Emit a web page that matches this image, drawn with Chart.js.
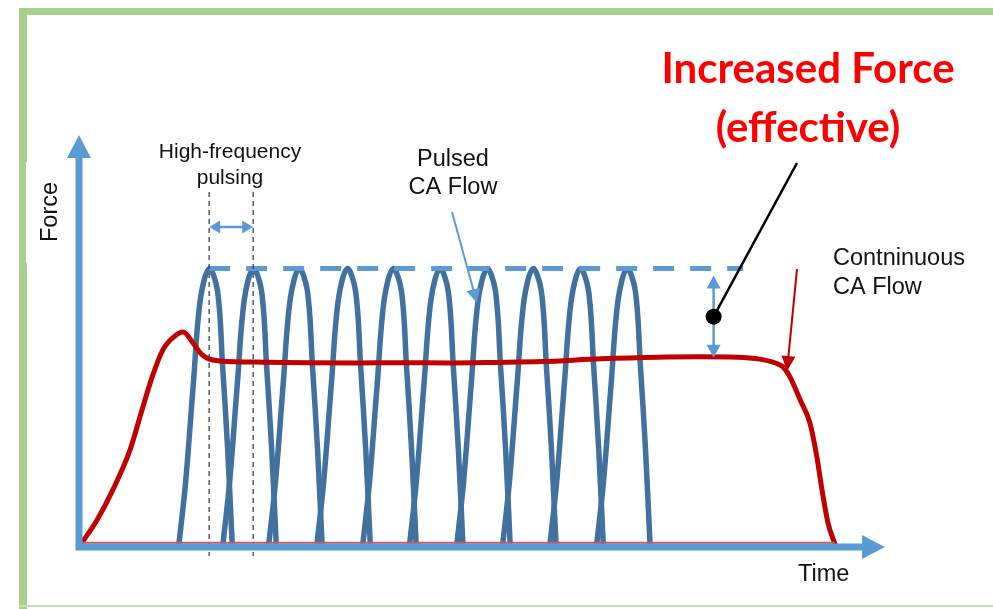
<!DOCTYPE html>
<html>
<head>
<meta charset="utf-8">
<script src="https://cdn.jsdelivr.net/npm/chart.js@4.4.1/dist/chart.umd.min.js"></script>
<style>
  html, body { margin: 0; padding: 0; background: #fff; }
  #wrap { position: relative; width: 993px; height: 609px; }
</style>
</head>
<body>
<div id="wrap"><canvas id="forceChart"></canvas></div>
<script>
// time in arbitrary units, force in % of the pulse peak
const axisMaxTime = 174;
const axisMaxForce = 148;
const pulsePeakForce = 100;

// one row per pulse (pulsed CA flow)
const pulseForce = [0, 23, 59, 89, 100, 92, 65, 35, 0];
const pulseTimes = [
    [21.5, 23.0, 24.7, 26.2, 28.1, 29.9, 31.0, 32.1, 33.1],
    [31.0, 32.5, 34.2, 35.7, 37.6, 39.4, 40.5, 41.6, 42.6],
    [40.9, 42.4, 44.1, 45.6, 47.5, 49.3, 50.4, 51.5, 52.5],
    [51.3, 52.8, 54.5, 56.0, 57.9, 59.7, 60.8, 61.9, 62.9],
    [61.2, 62.7, 64.4, 65.9, 67.8, 69.6, 70.7, 71.8, 72.8],
    [71.3, 72.8, 74.5, 76.0, 77.9, 79.7, 80.8, 81.9, 82.9],
    [81.5, 83.0, 84.7, 86.2, 88.1, 89.9, 91.0, 92.1, 93.1],
    [91.4, 92.9, 94.6, 96.1, 98.0, 99.8, 100.9, 102.0, 103.0],
    [101.6, 103.1, 104.8, 106.3, 108.2, 110.0, 111.1, 112.2, 113.2],
    [111.7, 113.2, 114.9, 116.4, 118.3, 120.1, 121.2, 122.3, 123.3]
];

// continuous CA flow
const contTimes = [0.4, 3.9, 7.3, 11.0, 13.6, 15.8, 18.1, 20.5, 22.5, 24.6, 26.3, 27.6, 30.4, 40, 50, 60, 70, 80, 90, 100, 112.5, 125, 134.1, 142, 147, 150.5, 152, 153.5, 155.7, 157.8, 159.3, 160.4, 161.7, 163.2];
const contForce = [1, 9.7, 20.5, 34.8, 49.2, 61.1, 70.8, 75.5, 77.2, 73.3, 69.5, 67.9, 66.8, 66.4, 66.2, 66.1, 66.2, 66.1, 66.3, 66.6, 67.6, 68.2, 68.3, 68.2, 67.5, 66.0, 64.7, 61.0, 52.8, 44.5, 32.3, 20.5, 8.6, 1];
const contBaseTimes = [0.4, 163.2];
const contBaseForce = [1.5, 1.5];

// annotation anchors (data units)
const levelStart = 28.1, levelEnd = 143.4;
const gapTime = 137, plateauForce = 68;

const pulseColor = '#41729f';
const contColor = '#c00000';
const axisColor = '#5b9bd5';

const datasets = [];
datasets.push({
    label: 'base',
    data: contBaseTimes.map((t, i) => ({ x: t, y: contBaseForce[i] })),
    borderColor: '#d9534f', borderWidth: 2, pointRadius: 0
});
datasets.push({
    label: 'Continuous CA Flow',
    data: contTimes.map((t, i) => ({ x: t, y: contForce[i] })),
    borderColor: contColor, borderWidth: 5, pointRadius: 0,
    cubicInterpolationMode: 'monotone', borderJoinStyle: 'round', borderCapStyle: 'round'
});
pulseTimes.forEach(function (row, k) {
    datasets.push({
        label: 'Pulsed CA Flow ' + (k + 1),
        data: row.map((t, i) => ({ x: t, y: pulseForce[i] })),
        borderColor: pulseColor, borderWidth: 5.5, pointRadius: 0,
        tension: 0.35, borderJoinStyle: 'round', borderCapStyle: 'round'
    });
});

function head(ctx, x1, y1, x2, y2, len, half) {
    const a = Math.atan2(y2 - y1, x2 - x1);
    ctx.beginPath();
    ctx.moveTo(x2, y2);
    ctx.lineTo(x2 - len * Math.cos(a) + half * Math.sin(a), y2 - len * Math.sin(a) - half * Math.cos(a));
    ctx.lineTo(x2 - len * Math.cos(a) - half * Math.sin(a), y2 - len * Math.sin(a) + half * Math.cos(a));
    ctx.closePath();
    ctx.fill();
}

function arrow(ctx, x1, y1, x2, y2, color, width, len, half, both) {
    const a = Math.atan2(y2 - y1, x2 - x1);
    ctx.strokeStyle = color; ctx.fillStyle = color; ctx.lineWidth = width;
    ctx.beginPath();
    ctx.moveTo(both ? x1 + len * 0.8 * Math.cos(a) : x1, both ? y1 + len * 0.8 * Math.sin(a) : y1);
    ctx.lineTo(x2 - len * 0.8 * Math.cos(a), y2 - len * 0.8 * Math.sin(a));
    ctx.stroke();
    head(ctx, x1, y1, x2, y2, len, half);
    if (both) head(ctx, x2, y2, x1, y1, len, half);
}

const framePlugin = {
    id: 'frame',
    beforeDraw(chart) {
        const ctx = chart.ctx;
        ctx.save();
        ctx.fillStyle = '#fff';
        ctx.fillRect(0, 0, chart.width, chart.height);
        ctx.fillStyle = '#a9d18e';
        ctx.fillRect(19, 8, chart.width - 19, 7);
        ctx.fillRect(19, 8, 8, chart.height - 8);
        ctx.fillStyle = '#c5e0b4';
        ctx.fillRect(19, 605, chart.width - 19, 2);
        ctx.fillStyle = '#fff';
        ctx.fillRect(26, 162, 32, 101);
        ctx.restore();
    }
};

const annotePlugin = {
    id: 'annote',
    afterDatasetsDraw(chart) {
        const ctx = chart.ctx;
        const xs = chart.scales.x, ys = chart.scales.y;
        const area = chart.chartArea;
        const x0 = xs.getPixelForValue(0), y0 = ys.getPixelForValue(0);
        ctx.save();

        // peak level of the pulses
        const yPeak = ys.getPixelForValue(pulsePeakForce);
        ctx.strokeStyle = axisColor; ctx.lineWidth = 5;
        ctx.setLineDash([21, 16]);
        ctx.beginPath();
        ctx.moveTo(xs.getPixelForValue(levelStart), yPeak);
        ctx.lineTo(xs.getPixelForValue(levelEnd), yPeak);
        ctx.stroke();

        // pulse period markers
        const p1 = xs.getPixelForValue(pulseTimes[0][4]);
        const p2 = xs.getPixelForValue(pulseTimes[1][4]);
        ctx.strokeStyle = '#404040'; ctx.lineWidth = 1.3;
        ctx.setLineDash([5, 4]);
        [p1, p2].forEach(function (px) {
            ctx.beginPath(); ctx.moveTo(px, 192); ctx.lineTo(px, y0 + 9); ctx.stroke();
        });
        ctx.setLineDash([]);
        arrow(ctx, p1, 227, p2, 227, axisColor, 2.5, 11, 6.5, true);

        // axes
        ctx.strokeStyle = axisColor; ctx.fillStyle = axisColor; ctx.lineWidth = 7;
        ctx.beginPath();
        ctx.moveTo(x0, y0 + 3.5); ctx.lineTo(x0, area.top + 20);
        ctx.moveTo(x0, y0); ctx.lineTo(area.right - 20, y0);
        ctx.stroke();
        head(ctx, x0, y0, x0, area.top, 23, 12);
        head(ctx, x0, y0, area.right, y0, 23, 12);

        // force gap indicator
        const gx = xs.getPixelForValue(gapTime);
        const gTop = yPeak + 7, gBot = ys.getPixelForValue(plateauForce);
        arrow(ctx, gx, gTop, gx, gBot, axisColor, 2.5, 13, 7, true);
        const dotY = (gTop + gBot) / 2;
        ctx.strokeStyle = '#000'; ctx.lineWidth = 2.5;
        ctx.beginPath(); ctx.moveTo(gx, dotY); ctx.lineTo(797, 163); ctx.stroke();
        ctx.fillStyle = '#000';
        ctx.beginPath(); ctx.arc(gx, dotY, 8, 0, Math.PI * 2); ctx.fill();

        // label pointers
        arrow(ctx, 452, 212, 477, 303, axisColor, 2, 14, 7, false);
        arrow(ctx, 797, 269, 787, 371, contColor, 2, 15, 7, false);

        // texts
        ctx.fillStyle = '#111';
        ctx.textBaseline = 'alphabetic';
        ctx.textAlign = 'center';
        ctx.font = '21px "Liberation Sans", Arial, sans-serif';
        ctx.fillText('High-frequency', 230, 158);
        ctx.fillText('pulsing', 230, 184);
        ctx.font = '23.5px "Liberation Sans", Arial, sans-serif';
        ctx.fillText('Pulsed', 453, 166);
        ctx.fillText('CA Flow', 453, 194);
        ctx.textAlign = 'left';
        ctx.fillText('Contninuous', 833, 265);
        ctx.fillText('CA Flow', 833, 294);
        ctx.fillText('Time', 798, 581);
        ctx.save();
        ctx.translate(57, 212);
        ctx.rotate(-Math.PI / 2);
        ctx.textAlign = 'center';
        ctx.fillText('Force', 0, 0);
        ctx.restore();

        // headline
        ctx.fillStyle = '#ff0000';
        ctx.font = 'bold 42px Lato, "Open Sans", sans-serif';
        ctx.textAlign = 'center';
        const w = ctx.measureText('Increased Force').width;
        const sx = Math.min(1, 303 / w);
        ctx.save();
        ctx.translate(808, 0);
        ctx.scale(sx, 1);
        ctx.fillText('Increased Force', 0, 83);
        ctx.fillText('(effective)', 0, 142);
        ctx.restore();

        ctx.restore();
    }
};

new Chart(document.getElementById('forceChart').getContext('2d'), {
    type: 'line',
    data: { datasets: datasets },
    options: {
        responsive: true,
        maintainAspectRatio: false,
        animation: false,
        layout: { padding: { left: 79, right: 108, top: 135, bottom: 62 } },
        scales: {
            x: { type: 'linear', min: 0, max: axisMaxTime, display: false },
            y: { type: 'linear', min: 0, max: axisMaxForce, display: false }
        },
        plugins: {
            legend: { display: false },
            tooltip: { enabled: false }
        }
    },
    plugins: [framePlugin, annotePlugin]
});
</script>
</body>
</html>
